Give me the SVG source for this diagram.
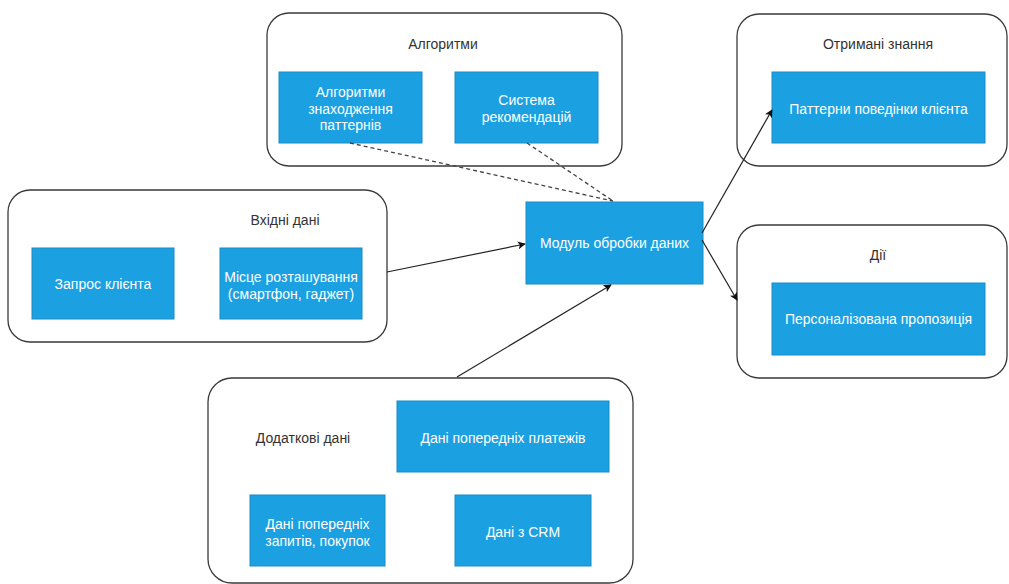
<svg xmlns="http://www.w3.org/2000/svg" width="1009" height="584" viewBox="0 0 1009 584">
<style>
.cont{fill:#ffffff;stroke:#3a3a3a;stroke-width:1.3}
.box{fill:#1ba1e2;stroke:#1a8bc8;stroke-width:1}
.bt{font-family:"Liberation Sans",Arial,sans-serif;font-size:14px;fill:#ffffff;text-anchor:middle}
.lt{font-family:"Liberation Sans",Arial,sans-serif;font-size:14px;fill:#333333;text-anchor:middle}
.edge{fill:none;stroke:#222222;stroke-width:1.2}
.dash{fill:none;stroke:#444444;stroke-width:1.3;stroke-dasharray:4 3}
</style>
<defs>
<marker id="arr" viewBox="0 0 10 10" refX="9" refY="5" markerWidth="8" markerHeight="8" markerUnits="userSpaceOnUse" orient="auto">
<path d="M0,0 L10,5 L0,10 L2.5,5 Z" fill="#111111"/>
</marker>
</defs>
<rect width="1009" height="584" fill="#ffffff"/>

<g id="algorithms">
<rect class="cont" x="267" y="13" width="355" height="153" rx="22"/>
<text class="lt" x="443" y="49">Алгоритми</text>
</g>
<g id="algo-patterns">
<rect class="box" x="279" y="72" width="143" height="71"/>
<text class="bt" x="350.5" y="97">Алгоритми</text>
<text class="bt" x="350.5" y="113.5">знаходження</text>
<text class="bt" x="350.5" y="130">паттернів</text>
</g>
<g id="recommend">
<rect class="box" x="455" y="72" width="143" height="71"/>
<text class="bt" x="526.5" y="105">Система</text>
<text class="bt" x="526.5" y="121.5">рекомендацій</text>
</g>

<g id="input">
<rect class="cont" x="8" y="190" width="379" height="152" rx="22"/>
<text class="lt" x="285" y="225">Вхідні дані</text>
</g>
<g id="client-request">
<rect class="box" x="32" y="248" width="142" height="71"/>
<text class="bt" x="103" y="289">Запрос клієнта</text>
</g>
<g id="location">
<rect class="box" x="220" y="248" width="142" height="71"/>
<text class="bt" x="291" y="282">Місце розташування</text>
<text class="bt" x="291" y="298.5">(смартфон, гаджет)</text>
</g>

<g id="processing">
<rect class="box" x="526" y="202" width="177" height="82"/>
<text class="bt" x="614.5" y="248">Модуль обробки даних</text>
</g>

<g id="knowledge">
<rect class="cont" x="737" y="14" width="270" height="152" rx="22"/>
<text class="lt" x="878" y="49">Отримані знання</text>
</g>
<g id="patterns">
<rect class="box" x="772" y="72" width="213" height="71"/>
<text class="bt" x="878.5" y="114">Паттерни поведінки клієнта</text>
</g>

<g id="actions">
<rect class="cont" x="737" y="225" width="270" height="153" rx="22"/>
<text class="lt" x="878" y="260">Дії</text>
</g>
<g id="offer">
<rect class="box" x="772" y="283" width="213" height="72"/>
<text class="bt" x="878.5" y="324">Персоналізована пропозиція</text>
</g>

<g id="additional">
<rect class="cont" x="208" y="378" width="425" height="205" rx="24"/>
<text class="lt" x="303" y="443">Додаткові дані</text>
</g>
<g id="payments">
<rect class="box" x="397" y="401" width="212" height="71"/>
<text class="bt" x="503" y="443">Дані попередніх платежів</text>
</g>
<g id="requests">
<rect class="box" x="250" y="495" width="135" height="71"/>
<text class="bt" x="317.5" y="529">Дані попередніх</text>
<text class="bt" x="317.5" y="545.5">запитів, покупок</text>
</g>
<g id="crm">
<rect class="box" x="455" y="495" width="136" height="71"/>
<text class="bt" x="523" y="537">Дані з CRM</text>
</g>

<g id="connectors">
<line class="dash" x1="350" y1="143" x2="613" y2="201"/>
<line class="dash" x1="527" y1="143" x2="613" y2="201"/>
<line class="edge" x1="387" y1="272" x2="525" y2="244" marker-end="url(#arr)"/>
<line class="edge" x1="457" y1="377" x2="611" y2="285" marker-end="url(#arr)"/>
<line class="edge" x1="702" y1="233" x2="772" y2="110" marker-end="url(#arr)"/>
<line class="edge" x1="702" y1="240" x2="737" y2="300" marker-end="url(#arr)"/>
</g>
</svg>
